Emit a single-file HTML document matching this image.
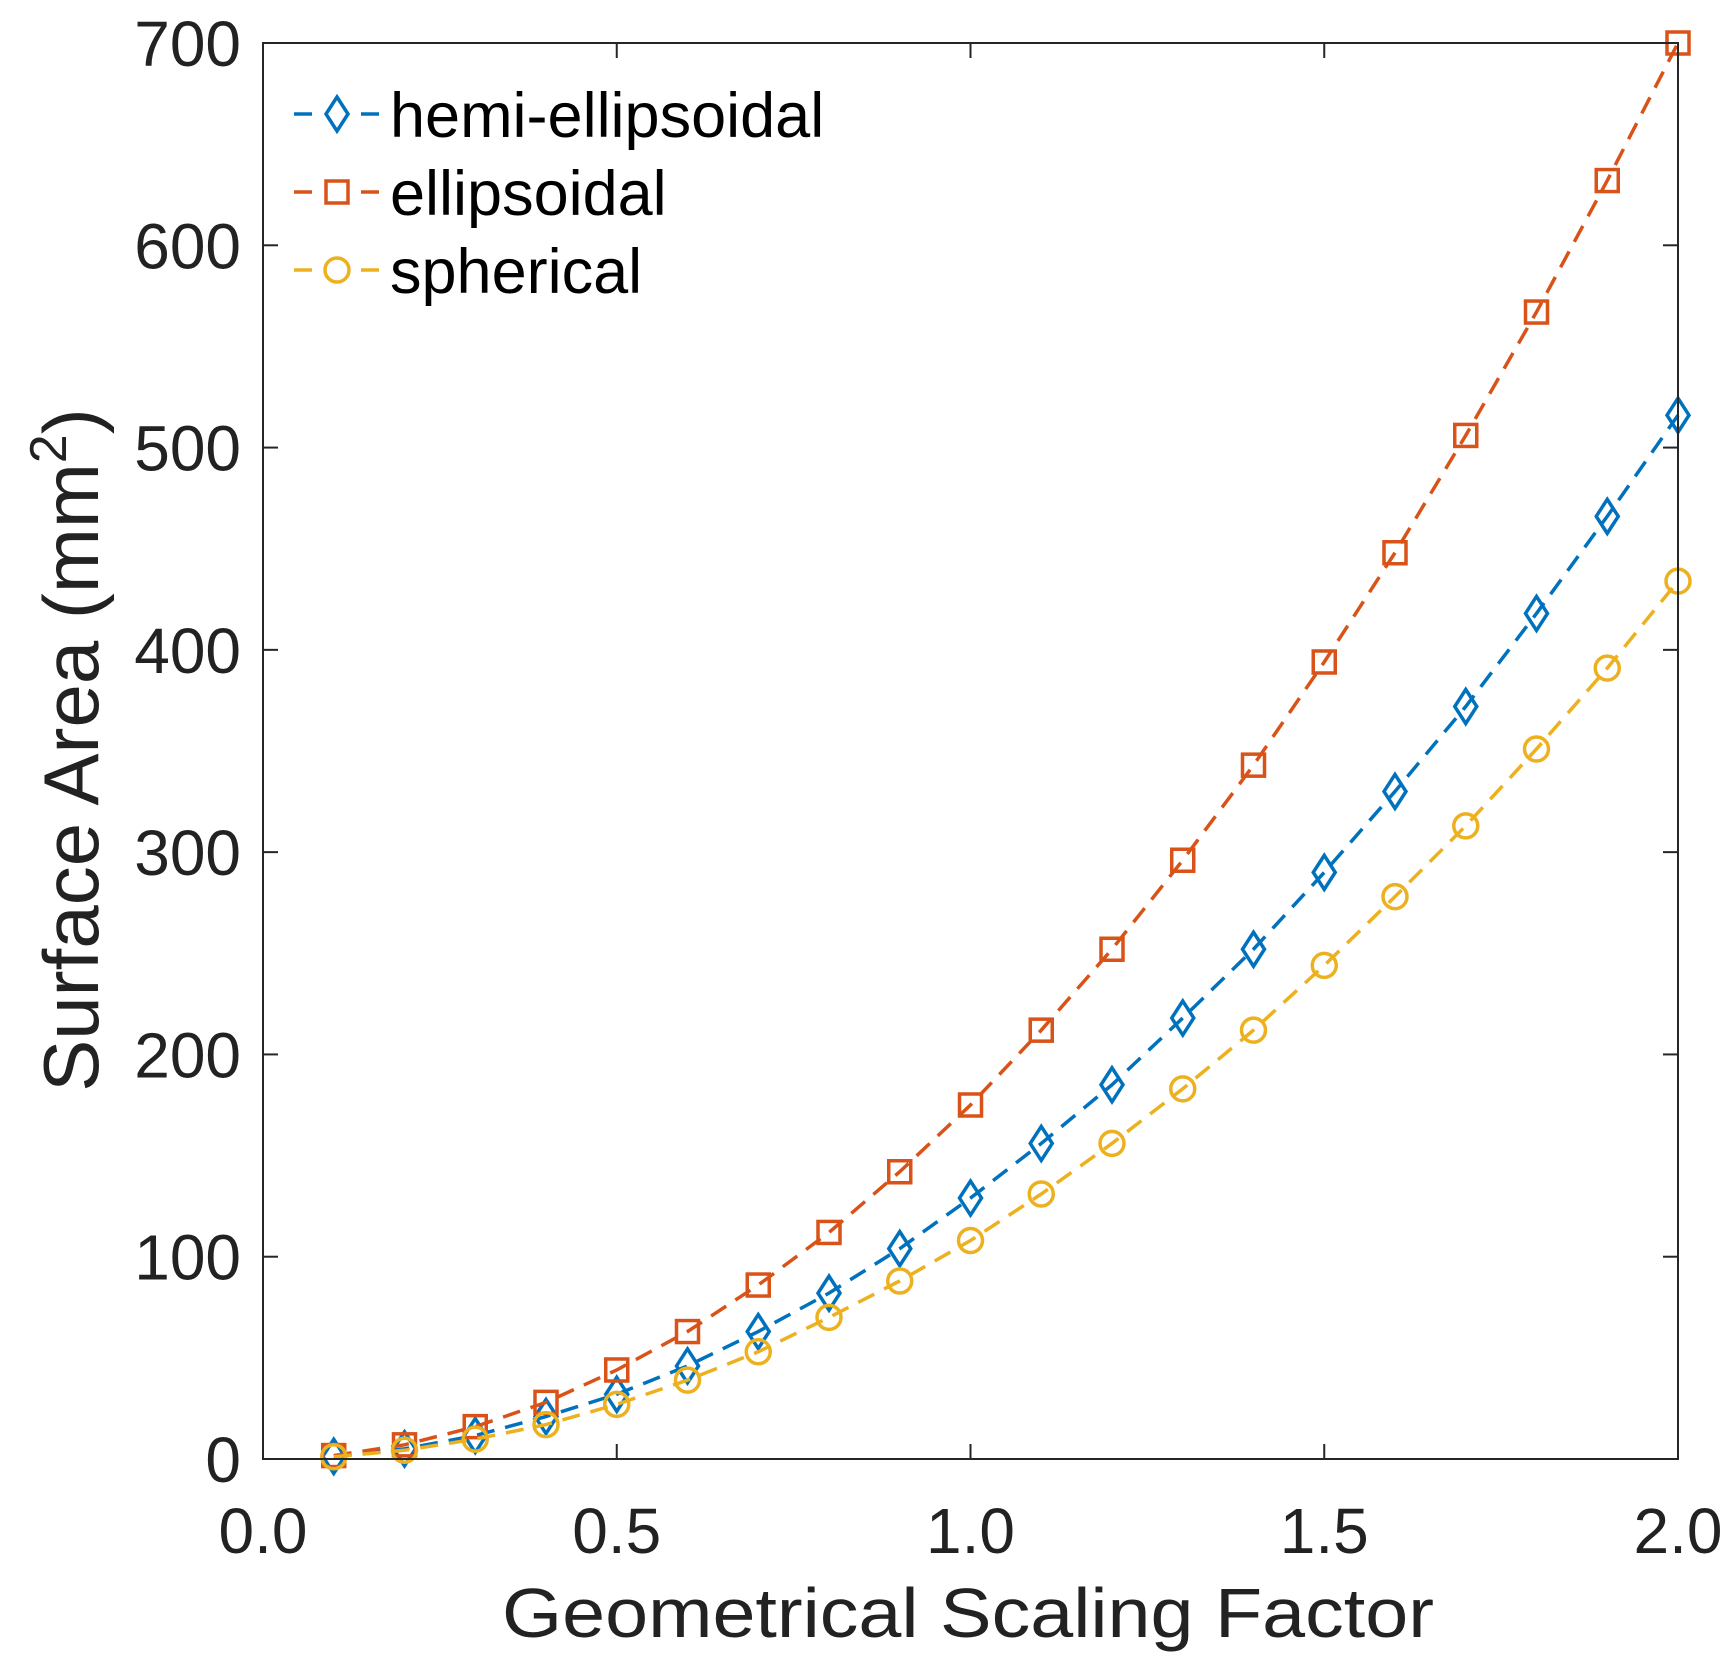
<!DOCTYPE html>
<html><head><meta charset="utf-8"><style>
html,body{margin:0;padding:0;background:#fff;}
svg{display:block;font-family:"Liberation Sans",Arial,sans-serif;}
</style></head><body>
<svg id="chart" width="1734" height="1670" viewBox="0 0 1734 1670">
<rect x="0" y="0" width="1734" height="1670" fill="#fff"/>
<g id="plot"></g>
<g id="axes"></g>
<text x="968" y="1637" font-size="70" text-anchor="middle" fill="#222" textLength="932" lengthAdjust="spacingAndGlyphs">Geometrical Scaling Factor</text>
<text transform="translate(98,750) rotate(-90)" font-size="78" text-anchor="middle" fill="#222">Surface Area (mm<tspan dy="-32" font-size="52">2</tspan><tspan dy="32">)</tspan></text>
<g id="legend"></g>
</svg>
<script>
const xValues=[0.1,0.2,0.3,0.4,0.5,0.6,0.7,0.8,0.9,1.0,1.1,1.2,1.3,1.4,1.5,1.6,1.7,1.8,1.9,2.0];
const hemiValues=[1.3,5,11.6,21,32,46,63,82,104,129,156,185,218,252,290,330,372,418,466,516];
const ellipValues=[1.7,7,16,28,44,63,86,112,142,175,212,252,296,343,394,448,506,567,632,700];
const spherValues=[1.1,4.3,9.8,17,27,39,53,70,88,108,131,156,183,212,244,278,313,351,391,434];
const xTicks=[0,0.5,1.0,1.5,2.0];
const xTickLabels=["0.0","0.5","1.0","1.5","2.0"];
const yTicks=[0,100,200,300,400,500,600,700];
const yTickLabels=["0","100","200","300","400","500","600","700"];
const seriesNames=["hemi-ellipsoidal","ellipsoidal","spherical"];

const NS="http://www.w3.org/2000/svg";
const L=263,R=1678,T=43,B=1459;
const sx=v=>L+(v-0)/(2-0)*(R-L);
const sy=v=>B-(v-0)/(700-0)*(B-T);
function mk(tag,attrs,parent){const e=document.createElementNS(NS,tag);for(const k in attrs)e.setAttribute(k,attrs[k]);parent.appendChild(e);return e;}
const plot=document.getElementById('plot'),axes=document.getElementById('axes'),legend=document.getElementById('legend');
const colors=["#0072BD","#D95319","#EDB120"];
function marker(type,x,y,c,parent,name){
  let e;
  if(type===0){e=mk('path',{d:`M${x},${y-17}L${x+11},${y}L${x},${y+17}L${x-11},${y}Z`,fill:'none',stroke:c,'stroke-width':3.5},parent);}
  else if(type===1){e=mk('rect',{x:x-11,y:y-11,width:22,height:22,fill:'none',stroke:c,'stroke-width':3.5},parent);}
  else {e=mk('circle',{cx:x,cy:y,r:12,fill:'none',stroke:c,'stroke-width':3.5},parent);}
  
  
}
const box=mk('rect',{x:L,y:T,width:R-L,height:B-T,fill:'none',stroke:'#262626','stroke-width':2},axes);


xTicks.forEach((t,i)=>{
  const x=sx(t);
  const a=mk('line',{x1:x,y1:B,x2:x,y2:B-15,stroke:'#262626','stroke-width':2},axes);
  
  
  const b=mk('line',{x1:x,y1:T,x2:x,y2:T+15,stroke:'#262626','stroke-width':2},axes);
  
  
  const tx=mk('text',{x:x,y:B+94,'font-size':64,'text-anchor':'middle',fill:'#222'},axes);
  tx.textContent=xTickLabels[i];
  
  
});
yTicks.forEach((t,i)=>{
  const y=sy(t);
  const a=mk('line',{x1:L,y1:y,x2:L+15,y2:y,stroke:'#262626','stroke-width':2},axes);
  
  
  const b=mk('line',{x1:R,y1:y,x2:R-15,y2:y,stroke:'#262626','stroke-width':2},axes);
  
  
  const tx=mk('text',{x:L-22,y:y+23,'font-size':64,'text-anchor':'end',fill:'#222'},axes);
  tx.textContent=yTickLabels[i];
  
  
});
[hemiValues,ellipValues,spherValues].forEach((vals,s)=>{
  const g=mk('g',{},plot);
  
  
  const pts=vals.map((v,i)=>sx(xValues[i])+','+sy(v)).join(' ');
  const pl=mk('polyline',{points:pts,fill:'none',stroke:colors[s],'stroke-width':3.5,'stroke-dasharray':'18,11'},g);
  
  
  vals.forEach((v,i)=>marker(s,sx(xValues[i]),sy(v),colors[s],g,'point-'+seriesNames[s]));
});
const rowsY=[114,192,270];
seriesNames.forEach((n,s)=>{
  const g=mk('g',{},legend);
  
  
  const l1=mk('line',{x1:294,y1:rowsY[s],x2:312,y2:rowsY[s],stroke:colors[s],'stroke-width':3.5},g);
  
  
  const l2=mk('line',{x1:361,y1:rowsY[s],x2:379,y2:rowsY[s],stroke:colors[s],'stroke-width':3.5},g);
  
  
  marker(s,337,rowsY[s],colors[s],g,'legend-marker');
  const t=mk('text',{x:390,y:rowsY[s]+23,'font-size':63,fill:'#000'},g);
  t.textContent=n;
  
  
});
</script>
</body></html>
